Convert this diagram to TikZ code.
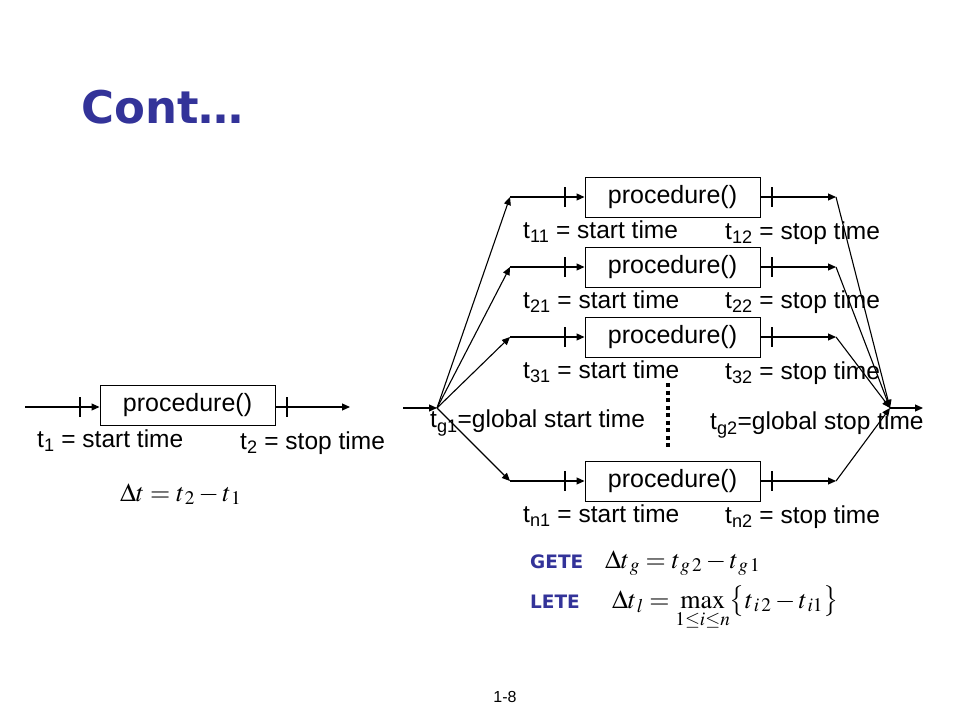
\documentclass[tikz,border=0pt]{standalone}
\usepackage{mathptmx}
\usepackage[no-math]{fontspec}
\setmainfont{Liberation Sans}
\newfontfamily\titlefont{DejaVu Sans}
\usepackage{tikz}
\usetikzlibrary{arrows.meta,positioning}
\definecolor{titleblue}{RGB}{51,51,153}

\begin{document}
\begin{tikzpicture}[x=1pt, y=-1pt,
    proc/.style={rectangle, draw, line width=1pt, minimum width=175pt, minimum height=40pt, inner sep=0pt, font=\fontsize{25}{29}\selectfont},
    lbl/.style={anchor=west, inner sep=0pt, font=\fontsize{24.5}{28}\selectfont},
    flow/.style={-{Triangle[length=8pt,width=7pt]}, line width=1.1pt},
    tick/.style={line width=1.1pt},
    eqn/.style={anchor=base west, inner sep=0pt, font=\fontsize{26}{30}\selectfont},
    tag/.style={anchor=base west, inner sep=0pt, text=titleblue, font=\titlefont\bfseries\fontsize{18.5}{22}\selectfont},
]
    \fill[white] (0,0) rectangle (960,720);
    \useasboundingbox (0,0) rectangle (960,720);

    % Title
    \node[anchor=base west, inner sep=0pt, text=titleblue, font=\titlefont\bfseries\fontsize{45}{50}\selectfont] (title) at (81,123) {Cont\ldots};

    % Single procedure
    \coordinate (in0) at (25,407);
    \coordinate (out0) at (350,407);
    \node[proc] (p0) at (187.5,405) {procedure()};
    \draw[flow] (in0) -- (in0 -| p0.west);
    \draw[flow] (out0 -| p0.east) -- (out0);
    \draw[tick] (80,397) -- (80,417);
    \draw[tick] (287,397) -- (287,417);
    \node[lbl] (t1) at (37,441) {t\textsubscript{1} = start time};
    \node[lbl] (t2) at (240,443) {t\textsubscript{2} = stop time};
    \node[eqn] (dt) at (120,501) {$\Delta t = t_{\,2} - t_{\,1}$};

    % Parallel procedures
    \coordinate (gin) at (403,408);
    \coordinate (gs) at (437,408);
    \coordinate (ge) at (890,408);
    \coordinate (gout) at (923,408);

    \node[proc] (p1) at (672.5,197) {procedure()};
    \node[proc] (p2) at (672.5,267) {procedure()};
    \node[proc] (p3) at (672.5,337) {procedure()};
    \node[proc] (pn) at (672.5,481) {procedure()};

    \coordinate (a1) at (510,197);
    \coordinate (a2) at (510,267);
    \coordinate (a3) at (510,337);
    \coordinate (an) at (510,481);
    \coordinate (b1) at (836,197);
    \coordinate (b2) at (836,267);
    \coordinate (b3) at (836,337);
    \coordinate (bn) at (836,481);

    % Fan out
    \draw[flow] (gin) -- (gs);
    \draw[flow] (gs) -- (a1);
    \draw[flow] (gs) -- (a2);
    \draw[flow] (gs) -- (a3);
    \draw[flow] (gs) -- (an);
    \draw[flow] (a1) -- (p1.west);
    \draw[flow] (a2) -- (p2.west);
    \draw[flow] (a3) -- (p3.west);
    \draw[flow] (an) -- (pn.west);

    % Fan in
    \draw[flow] (p1.east) -- (b1);
    \draw[flow] (p2.east) -- (b2);
    \draw[flow] (p3.east) -- (b3);
    \draw[flow] (pn.east) -- (bn);
    \draw[flow] (b1) -- (ge);
    \draw[flow] (b2) -- (ge);
    \draw[flow] (b3) -- (ge);
    \draw[flow] (bn) -- (ge);
    \draw[flow] (ge) -- (gout);

    % Ticks
    \draw[tick] (565,187) -- (565,207);
    \draw[tick] (565,257) -- (565,277);
    \draw[tick] (565,327) -- (565,347);
    \draw[tick] (565,471) -- (565,491);
    \draw[tick] (772,187) -- (772,207);
    \draw[tick] (772,257) -- (772,277);
    \draw[tick] (772,327) -- (772,347);
    \draw[tick] (772,471) -- (772,491);

    % Labels
    \node[lbl] (t11) at (523,232) {t\textsubscript{11} = start time};
    \node[lbl] (t12) at (725,233) {t\textsubscript{12} = stop time};
    \node[lbl] (t21) at (523,302) {t\textsubscript{21} = start time};
    \node[lbl] (t22) at (725,302) {t\textsubscript{22} = stop time};
    \node[lbl] (t31) at (523,372) {t\textsubscript{31} = start time};
    \node[lbl] (t32) at (725,373) {t\textsubscript{32} = stop time};
    \node[lbl] (tn1) at (523,516) {t\textsubscript{n1} = start time};
    \node[lbl] (tn2) at (725,517) {t\textsubscript{n2} = stop time};
    \node[lbl] (tg1) at (430,423) {t\textsubscript{g1}=global start time};
    \node[lbl] (tg2) at (710,425) {t\textsubscript{g2}=global stop time};

    % Dots
    \draw[line width=4pt, dash pattern=on 4pt off 3.5pt] (668,383) -- (668,448);

    % Formulas
    \node[tag] (gete) at (530,568) {GETE};
    \node[eqn] (dtg) at (605,568) {$\Delta t_{\,g} = t_{\,g\,2} - t_{\,g\,1}$};
    \node[tag] (lete) at (530,608) {LETE};
    \node[eqn] (dtl) at (612,608) {$\Delta t_{\,l} = \max\limits_{1\le i\le n}\bigl\{t_{\,i\,2} - t_{\,i1}\bigr\}$};

    % Page number
    \node[inner sep=0pt, font=\fontsize{16}{18}\selectfont] (page) at (505,697) {1-8};
\end{tikzpicture}
\end{document}
